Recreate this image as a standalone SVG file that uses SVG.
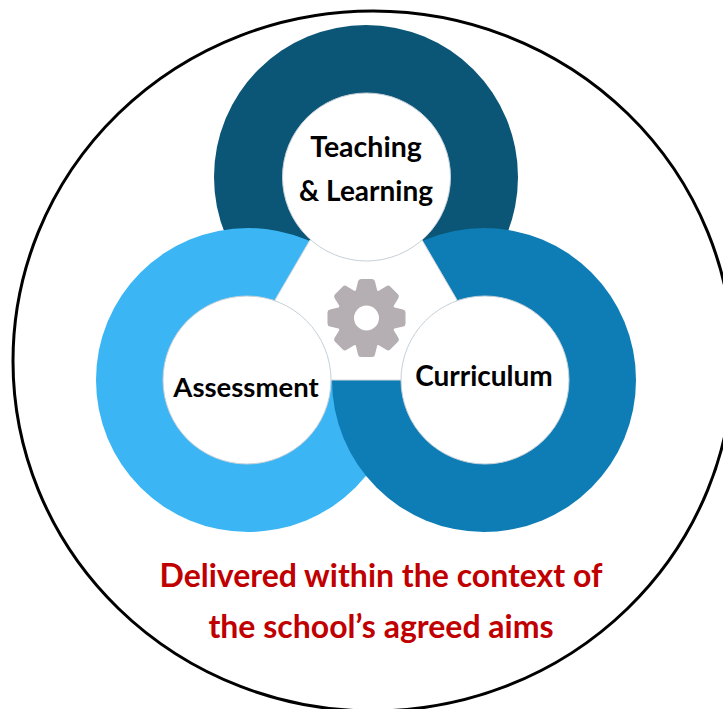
<svg xmlns="http://www.w3.org/2000/svg" xmlns:xlink="http://www.w3.org/1999/xlink" width="723" height="709" viewBox="0 0 723 709">
<style>
.l{font-family:"Lato","Liberation Sans",sans-serif;font-weight:700;fill:#000;text-anchor:middle}
.r{font-family:"Lato","Liberation Sans",sans-serif;font-weight:700;fill:#c00000;font-size:32px;text-anchor:middle}
.h{fill:#fff;stroke:#c5d0d8;stroke-width:1}
</style>
<defs><path id="tooth" d="M-11-26-8.500-36.500Q-8-39-5.500-39H5.500Q8-39 8.500-36.500L11-26Z" fill="#b5aeb2"/></defs>
<rect width="723" height="709" fill="#fff"/>
<ellipse id="outer" cx="373" cy="361" rx="360" ry="350" fill="#fff" stroke="#000" stroke-width="3"/>
<g id="connectors"></g>
<g id="ring-teaching"><circle cx="366" cy="177" r="152" fill="#0b5576"/></g>
<g id="ring-assessment"><circle cx="248" cy="380" r="152" fill="#3cb5f4"/></g>
<g id="ring-curriculum"><circle cx="484" cy="380" r="152" fill="#0e7db6"/></g>
<polygon id="center" points="310,240 422,240 457,300 402,380 331,380 275,300" fill="#fff" stroke="#d4d8dc" stroke-width="1"/>
<g id="teaching"><circle class="h" cx="366.500" cy="177" r="84"/><text class="l" font-size="28.500" x="366" y="157">Teaching</text><text class="l" font-size="28" x="366" y="201">&amp; Learning</text></g>
<g id="assessment"><circle class="h" cx="247" cy="380" r="84"/><text class="l" font-size="27.500" x="246" y="397">Assessment</text></g>
<g id="curriculum"><circle class="h" cx="485" cy="380" r="84"/><text class="l" font-size="28" x="484" y="386">Curriculum</text></g>
<g id="gear" transform="translate(366.500 318)"><circle r="21" fill="none" stroke="#b5aeb2" stroke-width="17"/><use href="#tooth"/><use href="#tooth" transform="rotate(45)"/><use href="#tooth" transform="rotate(90)"/><use href="#tooth" transform="rotate(135)"/><use href="#tooth" transform="rotate(180)"/><use href="#tooth" transform="rotate(225)"/><use href="#tooth" transform="rotate(270)"/><use href="#tooth" transform="rotate(315)"/></g>
<g id="caption"><text class="r" x="381" y="587">Delivered within the context of</text><text class="r" x="381" y="638">the school’s agreed aims</text></g>
</svg>
